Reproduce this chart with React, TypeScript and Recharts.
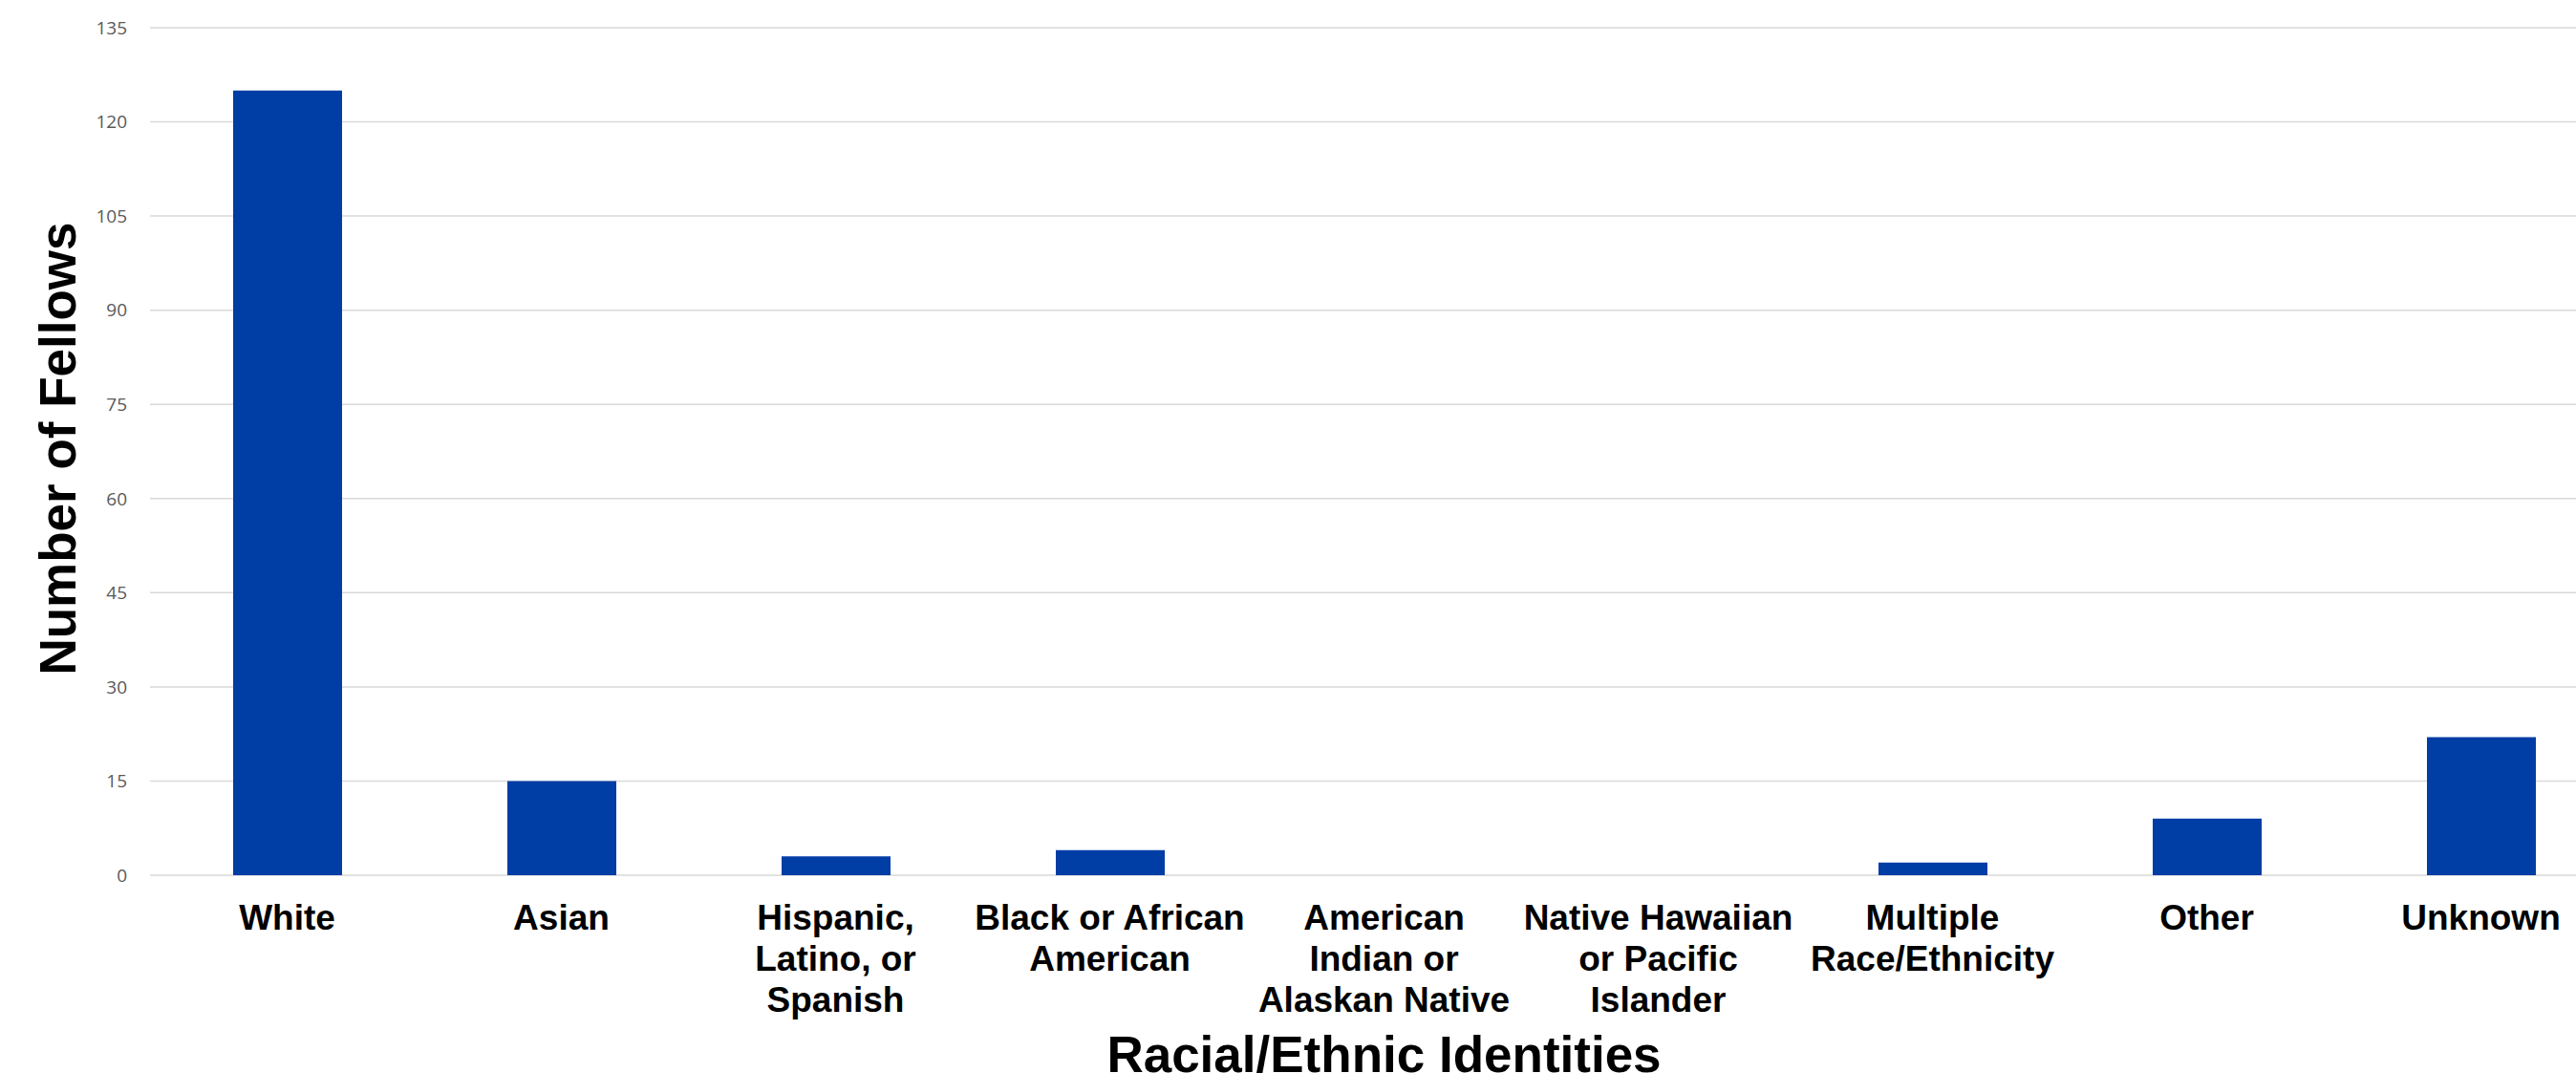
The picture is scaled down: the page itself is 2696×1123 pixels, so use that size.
import { BarChart, Bar, XAxis, YAxis, CartesianGrid, Label } from 'recharts';

// categories, line breaks as they wrap under the axis
const categories = [
  'White',
  'Asian',
  'Hispanic,\nLatino, or\nSpanish',
  'Black or African\nAmerican',
  'American\nIndian or\nAlaskan Native',
  'Native Hawaiian\nor Pacific\nIslander',
  'Multiple\nRace/Ethnicity',
  'Other',
  'Unknown',
];
const fellows = [125, 15, 3, 4, 0, 0, 2, 9, 22];
const yTicks = [0, 15, 30, 45, 60, 75, 90, 105, 120, 135];

const data = categories.map((name, i) => ({ name, fellows: fellows[i] }));

const boldFont = '"Liberation Sans", Arial, sans-serif';

function CategoryTick(props: any) {
  const { x, y, payload } = props;
  const lines = String(payload.value).split('\n');
  return (
    <text
      x={x}
      y={y}
      textAnchor="middle"
      fontFamily={boldFont}
      fontWeight="bold"
      fontSize={37}
      fill="#000"
    >
      {lines.map((line, i) => (
        <tspan key={i} x={x} dy={i === 0 ? 57 : 43}>
          {line}
        </tspan>
      ))}
    </text>
  );
}

function YTitle(props: any) {
  const { viewBox } = props;
  const cx = 79;
  const cy = viewBox.y + viewBox.height / 2 - 3;
  return (
    <text
      x={cx}
      y={cy}
      textAnchor="middle"
      transform={`rotate(-90, ${cx}, ${cy})`}
      fontFamily={boldFont}
      fontWeight="bold"
      fontSize={53}
      fill="#000"
    >
      Number of Fellows
    </text>
  );
}

function XTitle(props: any) {
  const { viewBox } = props;
  return (
    <text
      x={viewBox.x + viewBox.width / 2}
      y={1122}
      textAnchor="middle"
      fontFamily={boldFont}
      fontWeight="bold"
      fontSize={53}
      fill="#000"
    >
      Racial/Ethnic Identities
    </text>
  );
}

export default function App() {
  return (
    <div
      style={{
        position: 'absolute',
        left: 0,
        top: 0,
        width: 2696,
        height: 1123,
        overflow: 'hidden',
        background: '#fff',
      }}
    >
      <BarChart
        width={2740}
        height={1123}
        data={data}
        margin={{ top: 29, right: 0, bottom: 0, left: 0 }}
      >
        <CartesianGrid vertical={false} stroke="#d9d9d9" strokeWidth={1.5} />
        <XAxis
          dataKey="name"
          height={207}
          axisLine={false}
          tickLine={false}
          tickSize={0}
          tickMargin={0}
          interval={0}
          tick={<CategoryTick />}
        >
          <Label content={<XTitle />} />
        </XAxis>
        <YAxis
          width={157}
          domain={[0, 135]}
          ticks={yTicks}
          axisLine={false}
          tickLine={false}
          tickSize={0}
          tickMargin={24}
          tick={{ fill: '#595959', fontSize: 19, fontFamily: '"Open Sans", sans-serif' }}
        >
          <Label content={<YTitle />} />
        </YAxis>
        <Bar dataKey="fellows" fill="#003DA5" barSize={114} isAnimationActive={false} />
      </BarChart>
    </div>
  );
}
